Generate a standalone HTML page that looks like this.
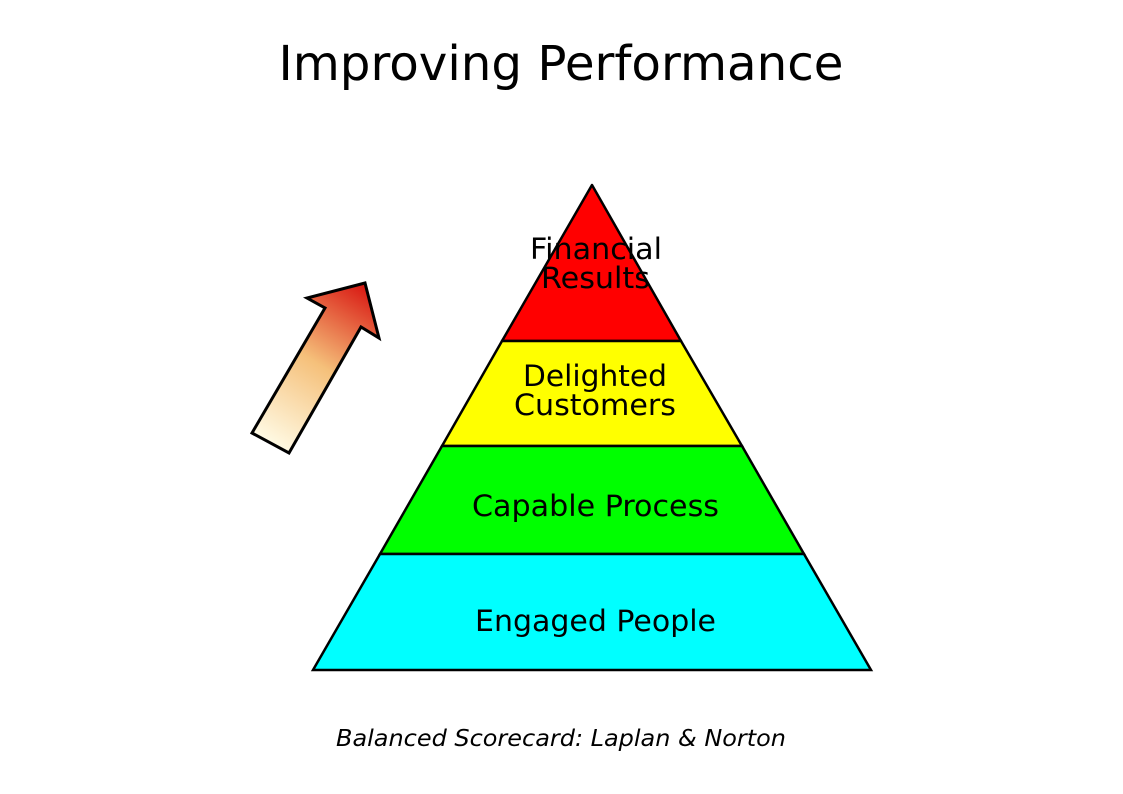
<!DOCTYPE html>
<html><head><meta charset="utf-8"><style>
html,body{margin:0;padding:0;background:#fff;}
svg{display:block}
</style></head><body>
<svg width="1123" height="794" viewBox="0 0 1123 794" xmlns="http://www.w3.org/2000/svg" font-family="'DejaVu Sans', 'Liberation Sans', sans-serif">
<defs>
<linearGradient id="g" x1="270" y1="445" x2="370" y2="285" gradientUnits="userSpaceOnUse">
<stop offset="0" stop-color="#fffbe6"/>
<stop offset="0.5" stop-color="#f5c07a"/>
<stop offset="1" stop-color="#d8130f"/>
</linearGradient>
</defs>
<text x="561" y="80" font-size="48" text-anchor="middle" fill="#000" textLength="565" lengthAdjust="spacingAndGlyphs">Improving Performance</text>
<polygon points="252,433 289,453 361,327 379,338 365,283 307,298 325,308" fill="url(#g)" stroke="#000" stroke-width="3" stroke-linejoin="miter"/>
<polygon points="592,185 681,341 502,341" fill="#ff0000" stroke="#000" stroke-width="2.5" stroke-linejoin="round"/>
<polygon points="502,341 681,341 742,446 442,446" fill="#ffff00" stroke="#000" stroke-width="2.5"/>
<polygon points="442,446 742,446 804,554 380,554" fill="#00ff00" stroke="#000" stroke-width="2.5"/>
<polygon points="380,554 804,554 871,670 313,670" fill="#00ffff" stroke="#000" stroke-width="2.5"/>
<g font-size="29" text-anchor="middle" fill="#000" lengthAdjust="spacingAndGlyphs">
<text x="596" y="259" textLength="132" lengthAdjust="spacingAndGlyphs">Financial</text>
<text x="595.5" y="288" textLength="109" lengthAdjust="spacingAndGlyphs">Results</text>
<text x="595" y="386" textLength="144" lengthAdjust="spacingAndGlyphs">Delighted</text>
<text x="595" y="415" textLength="162" lengthAdjust="spacingAndGlyphs">Customers</text>
<text x="595.5" y="516" textLength="247" lengthAdjust="spacingAndGlyphs">Capable Process</text>
<text x="595.5" y="631" textLength="241" lengthAdjust="spacingAndGlyphs">Engaged People</text>
</g>
<text x="561" y="746" font-size="23" font-style="italic" text-anchor="middle" fill="#000" textLength="450" lengthAdjust="spacingAndGlyphs">Balanced Scorecard: Laplan &amp; Norton</text>
</svg>
</body></html>
